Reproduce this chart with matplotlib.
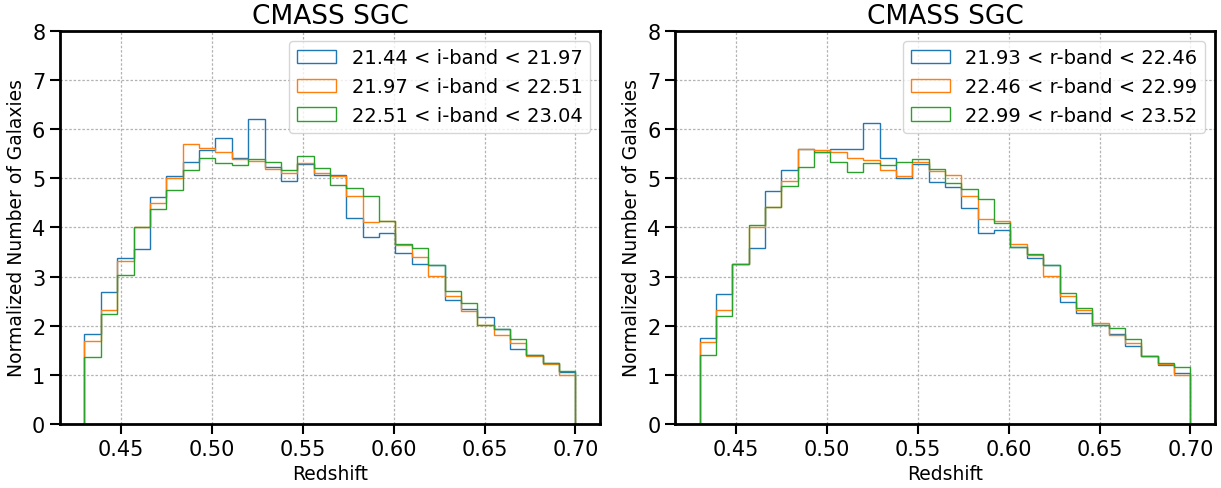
import numpy as np
import matplotlib
matplotlib.use("Agg")
import matplotlib.pyplot as plt

# redshift bins: 30 bins between 0.43 and 0.70
z_lo, z_hi, nbins = 0.43, 0.70, 30

i_labels = ["21.44 < i-band < 21.97", "21.97 < i-band < 22.51", "22.51 < i-band < 23.04"]
r_labels = ["21.93 < r-band < 22.46", "22.46 < r-band < 22.99", "22.99 < r-band < 23.52"]

i_blue = [1.83, 2.69, 3.38, 3.56, 4.62, 5.05, 5.34, 5.57, 5.83, 5.42,
          6.20, 5.24, 4.94, 5.29, 5.07, 5.07, 4.19, 3.80, 3.88, 3.48,
          3.25, 3.24, 2.52, 2.34, 2.17, 1.93, 1.53, 1.40, 1.24, 1.05]
i_orange = [1.68, 2.32, 3.31, 4.01, 4.49, 5.00, 5.69, 5.62, 5.53, 5.39,
            5.36, 5.19, 5.11, 5.32, 5.11, 5.04, 4.64, 4.12, 4.13, 3.65,
            3.40, 3.01, 2.60, 2.30, 2.01, 1.81, 1.64, 1.38, 1.22, 1.00]
i_green = [1.37, 2.23, 3.04, 4.01, 4.37, 4.77, 5.17, 5.41, 5.32, 5.27,
           5.40, 5.34, 5.18, 5.46, 5.21, 4.86, 4.81, 4.64, 4.13, 3.66,
           3.59, 3.23, 2.71, 2.46, 2.01, 1.94, 1.72, 1.40, 1.25, 1.08]

r_blue = [1.76, 2.64, 3.26, 3.59, 4.75, 5.17, 5.59, 5.54, 5.59, 5.59,
          6.12, 5.42, 5.00, 5.30, 4.92, 4.83, 4.39, 3.89, 3.95, 3.61,
          3.38, 3.23, 2.48, 2.26, 2.01, 1.84, 1.59, 1.38, 1.20, 1.03]
r_orange = [1.67, 2.33, 3.26, 4.01, 4.42, 4.94, 5.59, 5.57, 5.54, 5.42,
            5.38, 5.18, 5.04, 5.34, 5.15, 5.06, 4.64, 4.17, 4.13, 3.67,
            3.44, 3.01, 2.61, 2.33, 2.05, 1.82, 1.64, 1.38, 1.22, 0.99]
r_green = [1.40, 2.20, 3.26, 4.05, 4.42, 4.84, 5.24, 5.53, 5.34, 5.13,
           5.32, 5.27, 5.34, 5.39, 5.19, 4.90, 4.78, 4.57, 4.10, 3.61,
           3.47, 3.23, 2.66, 2.36, 2.01, 1.96, 1.72, 1.39, 1.25, 1.15]

colors = ["#1f77b4", "#ff7f0e", "#2ca02c"]

edges = np.linspace(z_lo, z_hi, nbins + 1)
centers = 0.5 * (edges[:-1] + edges[1:])

fig = plt.figure(figsize=(12.21, 4.89), dpi=100)
ax1 = fig.add_axes([0.0491, 0.1309, 0.4423, 0.8037])
ax2 = fig.add_axes([0.5528, 0.1309, 0.4423, 0.8037])

panels = [(ax1, [i_blue, i_orange, i_green], i_labels),
          (ax2, [r_blue, r_orange, r_green], r_labels)]

for ax, series, labels in panels:
    for vals, lab, c in zip(series, labels, colors):
        ax.hist(centers, bins=edges, weights=vals, histtype="step",
                color=c, lw=1.0, label=lab)
    ax.set_ylim(0, 8)
    ax.set_xticks([0.45, 0.50, 0.55, 0.60, 0.65, 0.70])
    ax.set_xticklabels(["0.45", "0.50", "0.55", "0.60", "0.65", "0.70"])
    ax.grid(True, ls=(0, (2, 1.5)), color="0.7", lw=0.9)
    ax.set_axisbelow(True)
    ax.tick_params(labelsize=15, length=7, width=1.5)
    for s in ax.spines.values():
        s.set_linewidth(2)
    ax.set_title("CMASS SGC", fontsize=19)
    ax.set_xlabel("Redshift", fontsize=13.5)
    ax.set_ylabel("Normalized Number of Galaxies", fontsize=13.5)
    ax.legend(loc="upper right", fontsize=14, handlelength=2.0)

fig.savefig("out.png", dpi=100)
